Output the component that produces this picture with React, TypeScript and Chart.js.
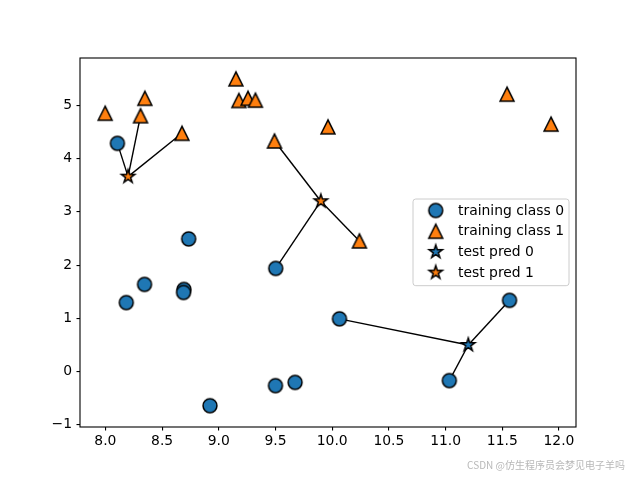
import React, { useEffect, useRef } from "react";
import { Chart, registerables } from "chart.js";
Chart.register(...registerables);

// forge training data
const trainX = [9.963, 11.033, 11.542, 8.693, 8.106, 8.310, 11.930, 9.673, 8.348, 8.675, 9.177, 10.240, 8.689, 8.922, 9.491, 9.257, 7.998, 8.184, 8.734, 9.323, 10.064, 9.500, 8.345, 9.502, 9.151, 11.564];
const trainY = [4.597, -0.168, 5.211, 1.543, 4.287, 4.806, 4.649, -0.203, 5.134, 4.476, 5.093, 2.455, 1.487, -0.640, 4.332, 5.133, 4.853, 1.296, 2.492, 5.098, 0.991, -0.264, 1.638, 1.938, 5.498, 1.339];
const trainLabel = [1, 0, 1, 0, 0, 1, 1, 0, 1, 1, 1, 1, 0, 0, 1, 1, 1, 0, 0, 1, 0, 0, 0, 0, 1, 0];

// test points, predictions and their 3 nearest neighbours (indices into training data)
const testX = [8.2, 9.9, 11.2];
const testY = [3.662, 3.2, 0.5];
const testPred = [1, 1, 0];
const neighbors = [[4, 9, 5], [11, 14, 23], [1, 25, 20]];

const xTicks = [8.0, 8.5, 9.0, 9.5, 10.0, 10.5, 11.0, 11.5, 12.0];
const yTicks = [-1, 0, 1, 2, 3, 4, 5];
const legendLabels = ["training class 0", "training class 1", "test pred 0", "test pred 1"];
const watermark = "CSDN @仿生程序员会梦见电子羊吗";

const BLUE = "#1f77b4";
const ORANGE = "#ff7f0e";
const FONT = "DejaVu Sans";

function makeMarker(kind: string, color: string): HTMLCanvasElement {
  const s = 22;
  const c = document.createElement("canvas");
  c.width = s;
  c.height = s;
  const ctx = c.getContext("2d")!;
  const m = s / 2;
  const size = 13.9;
  ctx.beginPath();
  if (kind === "circle") {
    ctx.arc(m, m, size / 2, 0, 2 * Math.PI);
  } else if (kind === "triangle") {
    ctx.moveTo(m, m - size / 2);
    ctx.lineTo(m - size / 2, m + size / 2);
    ctx.lineTo(m + size / 2, m + size / 2);
    ctx.closePath();
  } else {
    const outer = size / 2;
    const inner = outer * 0.381966;
    for (let i = 0; i < 10; i++) {
      const a = -Math.PI / 2 + (i * Math.PI) / 5;
      const r = i % 2 === 0 ? outer : inner;
      const px = m + r * Math.cos(a);
      const py = m + r * Math.sin(a);
      if (i === 0) ctx.moveTo(px, py);
      else ctx.lineTo(px, py);
    }
    ctx.closePath();
  }
  ctx.fillStyle = color;
  ctx.fill();
  ctx.lineWidth = 1.5;
  ctx.lineJoin = "miter";
  ctx.strokeStyle = "#000";
  ctx.stroke();
  return c;
}

export default function App() {
  const ref = useRef<HTMLCanvasElement>(null);
  useEffect(() => {
    const markers = [
      makeMarker("circle", BLUE),
      makeMarker("triangle", ORANGE),
      makeMarker("star", BLUE),
      makeMarker("star", ORANGE),
    ];
    const datasets: any[] = [];
    // neighbour lines (drawn below markers)
    neighbors.forEach((nb, t) => {
      nb.forEach((n) => {
        datasets.push({
          type: "line",
          data: [
            { x: testX[t], y: testY[t] },
            { x: trainX[n], y: trainY[n] },
          ],
          borderColor: "#000",
          borderWidth: 1.4,
          pointRadius: 0,
          showLine: true,
          fill: false,
          order: 10,
        });
      });
    });
    [0, 1].forEach((cls) => {
      const pts = trainX
        .map((x, i) => ({ x, y: trainY[i], c: trainLabel[i] }))
        .filter((p) => p.c === cls)
        .map((p) => ({ x: p.x, y: p.y }));
      datasets.push({
        type: "scatter",
        label: legendLabels[cls],
        data: pts,
        pointStyle: markers[cls],
        pointRadius: 7,
        order: 5,
      });
    });
    [0, 1].forEach((cls) => {
      const pts = testX
        .map((x, i) => ({ x, y: testY[i], c: testPred[i] }))
        .filter((p) => p.c === cls)
        .map((p) => ({ x: p.x, y: p.y }));
      datasets.push({
        type: "scatter",
        label: legendLabels[2 + cls],
        data: pts,
        pointStyle: markers[2 + cls],
        pointRadius: 7,
        order: 1,
      });
    });

    const framePlugin = {
      id: "frame",
      afterDatasetsDraw(chart: any) {
        const { ctx, chartArea: a } = chart;
        ctx.save();
        ctx.strokeStyle = "#000";
        ctx.lineWidth = 1.1;
        ctx.strokeRect(a.left, a.top, a.right - a.left, a.bottom - a.top);
        ctx.restore();
      },
      afterDraw(chart: any) {
        const { ctx, chartArea: a } = chart;
        const w = 156;
        const h = 86.7;
        const left = a.right - 7 - w;
        const top = 199;
        ctx.save();
        ctx.beginPath();
        (ctx as any).roundRect(left, top, w, h, 2.8);
        ctx.fillStyle = "rgba(255,255,255,0.8)";
        ctx.fill();
        ctx.strokeStyle = "#cccccc";
        ctx.lineWidth = 1;
        ctx.stroke();
        ctx.font = `13.9px '${FONT}'`;
        ctx.fillStyle = "#000";
        ctx.textBaseline = "middle";
        ctx.textAlign = "left";
        legendLabels.forEach((lab, i) => {
          const y = top + 11.5 + i * 20.7;
          const mk = markers[i];
          ctx.drawImage(mk, left + 22.7 - mk.width / 2, y - mk.height / 2);
          ctx.fillText(lab, left + 45, y + 0.5);
        });
        ctx.restore();
      },
    };

    const tickFont = { family: FONT, size: 13.9 };
    const chart = new Chart(ref.current!, {
      type: "scatter",
      data: { datasets },
      options: {
        animation: false,
        responsive: false,
        devicePixelRatio: 1,
        layout: { padding: { left: 0, top: 58, right: 64, bottom: 0 } },
        plugins: { legend: { display: false }, tooltip: { enabled: false } },
        scales: {
          x: {
            type: "linear",
            min: 7.776,
            max: 12.15,
            border: { display: false },
            grid: { display: true, drawOnChartArea: false, drawTicks: true, tickLength: 3.5, color: "#000", lineWidth: 1.1 },
            ticks: { color: "#000", font: tickFont, padding: 3, maxRotation: 0, callback: (v: any) => Number(v).toFixed(1) },
            afterBuildTicks: (s: any) => {
              s.ticks = xTicks.map((v) => ({ value: v }));
            },
            afterFit: (s: any) => {
              s.height = 53;
            },
          },
          y: {
            type: "linear",
            min: -1.04,
            max: 5.89,
            border: { display: false },
            grid: { display: true, drawOnChartArea: false, drawTicks: true, tickLength: 3.5, color: "#000", lineWidth: 1.1 },
            ticks: {
              color: "#000",
              font: tickFont,
              padding: 4.5,
              callback: (v: any) => (Number(v) < 0 ? "\u2212" + Math.abs(Number(v)) : String(v)),
            },
            afterBuildTicks: (s: any) => {
              s.ticks = yTicks.map((v) => ({ value: v }));
            },
            afterFit: (s: any) => {
              s.width = 80;
            },
          },
        },
      } as any,
      plugins: [framePlugin],
    });
    return () => chart.destroy();
  }, []);

  return (
    <div style={{ position: "fixed", left: 0, top: 0, width: 640, height: 480, background: "#fff" }}>
      <canvas ref={ref} width={640} height={480} style={{ width: 640, height: 480, display: "block" }} />
      <div
        style={{
          position: "absolute",
          right: 15,
          top: 459,
          fontFamily: "'Noto Sans CJK SC', 'DejaVu Sans', sans-serif",
          fontSize: 10,
          lineHeight: "12px",
          color: "#b8b8b8",
          whiteSpace: "nowrap",
        }}
      >
        {watermark}
      </div>
    </div>
  );
}
